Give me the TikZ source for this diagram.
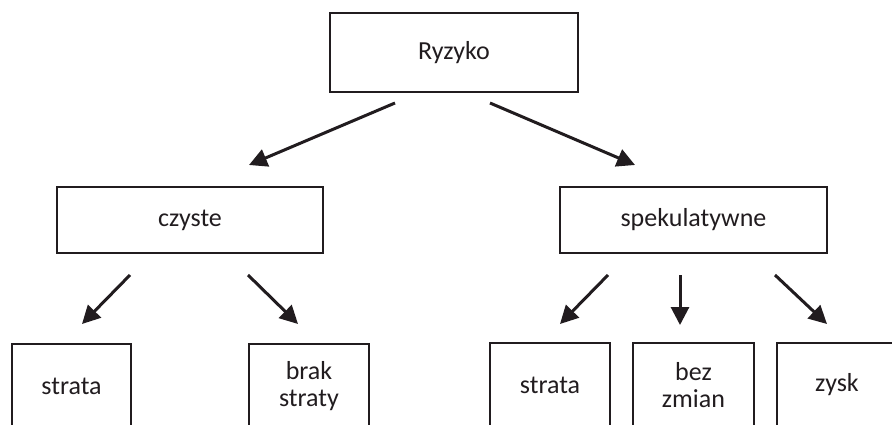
\documentclass[tikz,border=0pt]{standalone}
\usepackage{fontspec}
\setmainfont{Carlito}
\usetikzlibrary{arrows.meta}
\definecolor{ink}{rgb}{0.13,0.11,0.12}
\begin{document}
\begin{tikzpicture}[x=1pt,y=-1pt,
  box/.style={draw=ink, line width=2pt, inner sep=0pt, outer sep=0pt,
    align=center, text=ink, font=\fontsize{26}{27.5}\selectfont},
  topbox/.style={box, minimum width=#1, minimum height=66pt},
  leafbox/.style={box, minimum width=#1, minimum height=84pt},
  arr/.style={draw=ink, line width=3pt,
    -{Triangle[length=18pt,width=18pt]}}]
\useasboundingbox (0,0) rectangle (892,425);
\begin{scope}
\clip (0,0) rectangle (892,425);

% root and the two kinds of risk
\node[box, minimum width=248pt, minimum height=79pt] (ryzyko) at (454,52.5) {Ryzyko};
\node[topbox=266pt] (czyste) at (190,220) {czyste};
\node[topbox=267pt] (spek) at (693.5,220) {spekulatywne};

% outcomes
\node[leafbox=119pt] (strataA) at (71.5,386) {strata};
\node[leafbox=120pt] (brak) at (309,386) {brak\\straty};
\node[leafbox=120pt] (strataB) at (550,385) {strata};
\node[leafbox=121pt] (bez) at (693.5,385) {bez\\zmian};
\node[leafbox=120pt] (zysk) at (837,385) {zysk};

% arrow end points, left free between the boxes
\coordinate (r1) at (395,103);  \coordinate (r1e) at (249,165);
\coordinate (r2) at (490,103);  \coordinate (r2e) at (635,165);
\coordinate (c1) at (130,275);  \coordinate (c1e) at (82,324);
\coordinate (c2) at (248,275);  \coordinate (c2e) at (298,324);
\coordinate (s1) at (608,275);  \coordinate (s1e) at (560,324);
\coordinate (s2) at (680,275);  \coordinate (s2e) at (680,325);
\coordinate (s3) at (775,275);  \coordinate (s3e) at (827,324);

\draw[arr] (r1) -- (r1e);
\draw[arr] (r2) -- (r2e);
\draw[arr] (c1) -- (c1e);
\draw[arr] (c2) -- (c2e);
\draw[arr] (s1) -- (s1e);
\draw[arr] (s2) -- (s2e);
\draw[arr] (s3) -- (s3e);
\end{scope}
\end{tikzpicture}
\end{document}
